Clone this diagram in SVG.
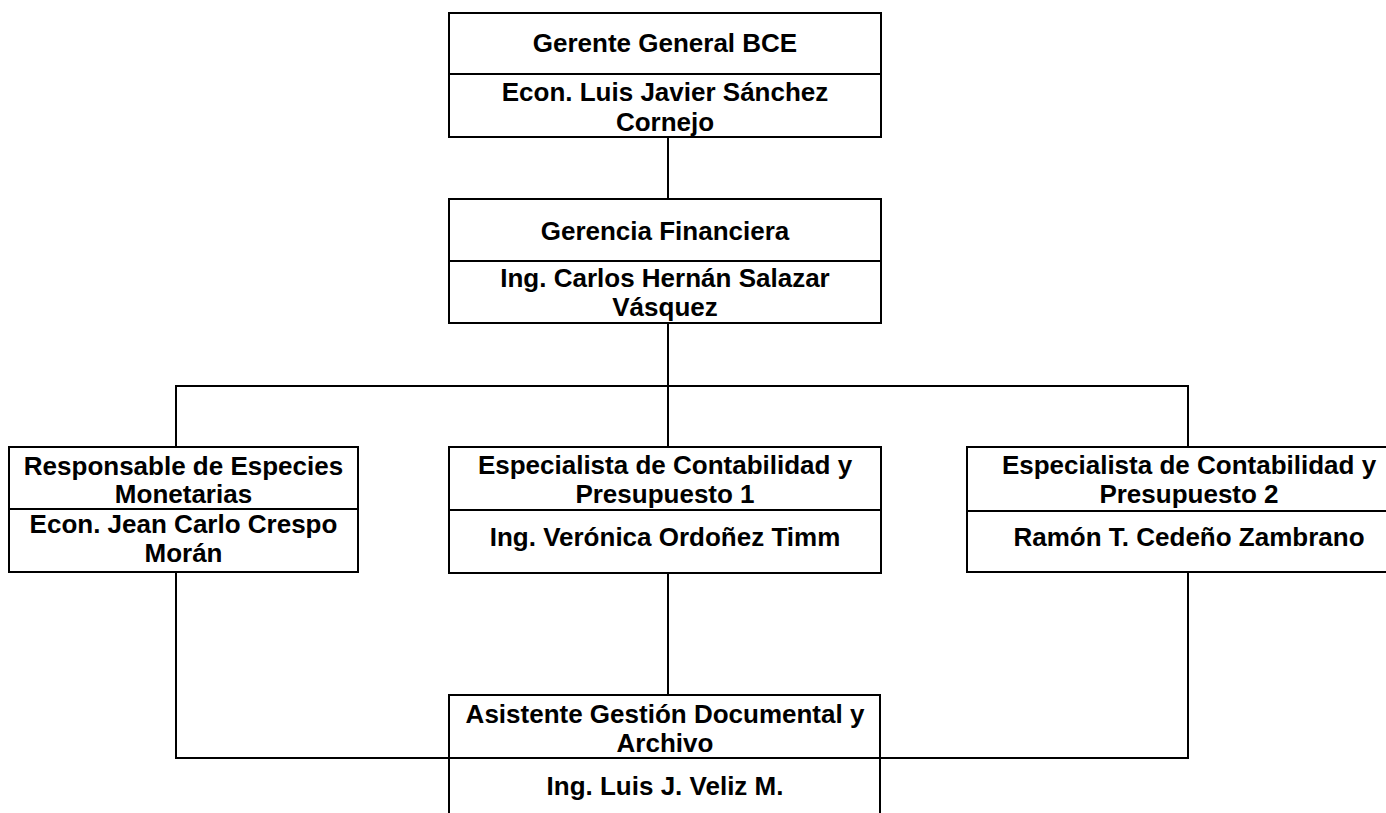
<svg xmlns="http://www.w3.org/2000/svg" width="1386" height="813" viewBox="0 0 1386 813">
<style>
.box{fill:#fff;stroke:#000;stroke-width:2}
.div{stroke:#000;stroke-width:2}
.conn{stroke:#000;stroke-width:2;fill:none}
text{font-family:"Liberation Sans",Arial,sans-serif;font-weight:bold;font-size:26px;fill:#000;text-anchor:middle}
</style>
<rect width="1386" height="813" fill="#fff"/>
<g id="connectors">
<line class="conn" x1="668" y1="137" x2="668" y2="199"/>
<line class="conn" x1="668" y1="323" x2="668" y2="447"/>
<line class="conn" x1="176" y1="386" x2="1188" y2="386"/>
<line class="conn" x1="176" y1="385" x2="176" y2="447"/>
<line class="conn" x1="1188" y1="385" x2="1188" y2="447"/>
<line class="conn" x1="668" y1="573" x2="668" y2="695"/>
<polyline class="conn" points="176,572 176,758 449,758"/>
<polyline class="conn" points="1188,572 1188,758 881,758"/>
</g>
<g id="gerente-general">
<rect class="box" x="449" y="13" width="432" height="124"/>
<line class="div" x1="449" y1="74" x2="881" y2="74"/>
<text x="665" y="52">Gerente General BCE</text>
<text x="665" y="101">Econ. Luis Javier Sánchez</text>
<text x="665" y="131">Cornejo</text>
</g>
<g id="gerencia-financiera">
<rect class="box" x="449" y="199" width="432" height="124"/>
<line class="div" x1="449" y1="261" x2="881" y2="261"/>
<text x="665" y="240">Gerencia Financiera</text>
<text x="665" y="287">Ing. Carlos Hernán Salazar</text>
<text x="665" y="316">Vásquez</text>
</g>
<g id="especies-monetarias">
<rect class="box" x="9" y="447" width="349" height="125"/>
<line class="div" x1="9" y1="509" x2="358" y2="509"/>
<text x="183.5" y="475">Responsable de Especies</text>
<text x="183.5" y="503">Monetarias</text>
<text x="183.5" y="533">Econ. Jean Carlo Crespo</text>
<text x="183.5" y="562">Morán</text>
</g>
<g id="contabilidad-1">
<rect class="box" x="449" y="447" width="432" height="126"/>
<line class="div" x1="449" y1="510" x2="881" y2="510"/>
<text x="665" y="474">Especialista de Contabilidad y</text>
<text x="665" y="503">Presupuesto 1</text>
<text x="665" y="546">Ing. Verónica Ordoñez Timm</text>
</g>
<g id="contabilidad-2">
<rect class="box" x="967" y="447" width="444" height="125"/>
<line class="div" x1="967" y1="511" x2="1411" y2="511"/>
<text x="1189" y="474">Especialista de Contabilidad y</text>
<text x="1189" y="503">Presupuesto 2</text>
<text x="1189" y="546">Ramón T. Cedeño Zambrano</text>
</g>
<g id="asistente-documental">
<rect class="box" x="449" y="695" width="431" height="140"/>
<line class="div" x1="449" y1="758" x2="880" y2="758"/>
<text x="665" y="723">Asistente Gestión Documental y</text>
<text x="665" y="752">Archivo</text>
<text x="665" y="795">Ing. Luis J. Veliz M.</text>
</g>
</svg>
